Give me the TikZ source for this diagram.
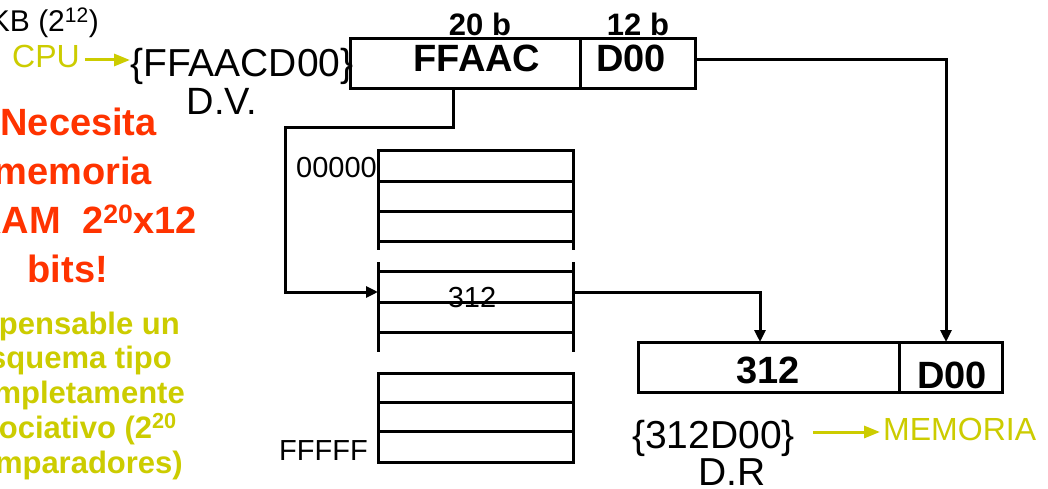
\documentclass[tikz,border=0pt]{standalone}
\usepackage{fontspec}
\setmainfont{Liberation Sans}
\usetikzlibrary{arrows.meta}
\definecolor{ylw}{RGB}{204,204,0}
\definecolor{rd}{RGB}{255,51,0}
\begin{document}
\begin{tikzpicture}[x=1pt,y=-1pt,
  line join=miter,
  box/.style={draw, line width=3pt, inner sep=0pt, outer sep=0pt, minimum height=50pt},
  rowbox/.style={inner sep=0pt, outer sep=0pt, minimum width=195pt, minimum height=31pt},
  bl/.style={inner sep=0pt, font=\fontsize{38}{40}\selectfont\bfseries},
  bsm/.style={inner sep=0pt, font=\fontsize{31}{33}\selectfont\bfseries},
  big/.style={inner sep=0pt, font=\fontsize{38}{40}\selectfont},
  mid/.style={inner sep=0pt, font=\fontsize{29}{31}\selectfont},
  redt/.style={inner sep=0pt, text=rd, font=\fontsize{38}{40}\selectfont\bfseries, anchor=base east},
  ylwt/.style={inner sep=0pt, text=ylw, font=\fontsize{31}{33}\selectfont\bfseries, anchor=base east},
  ylwr/.style={inner sep=0pt, text=ylw, font=\fontsize{32}{34}\selectfont},
  arr/.style={line width=3pt, -{Triangle[length=12pt,width=11pt]}},
  yarr/.style={line width=3pt, draw=ylw, -{Triangle[length=16pt,width=12pt,fill=ylw]}},
  tbl/.style={line width=3pt, line cap=butt}
]
\clip (0,0) rectangle (1048,489);
\fill[white] (0,0) rectangle (1048,489);

% top-left texts
\node[big, anchor=base east, font=\fontsize{30}{32}\selectfont] (kb) at (99,32) {4 KB (2\textsuperscript{12})};
\node[ylwr, anchor=base west] (cpu) at (12,68) {CPU};
\node[big, anchor=base west, font=\fontsize{39}{41}\selectfont] (dvtext) at (130,77) {\{FFAACD00\}};
\node[big, anchor=base] (dv) at (222,115) {D.V.};

% red text
\node[redt] (r1) at (157,136) {Necesita};
\node[redt] (r2) at (152,185) {memoria};
\node[redt] (r3) at (197,233) {RAM\ \ 2\textsuperscript{20}x12};
\node[redt] (r4) at (108,282) {bits!};

% yellow text
\node[ylwt] (y1) at (180,334) {Indispensable un};
\node[ylwt] (y2) at (172,368) {esquema tipo};
\node[ylwt] (y3) at (185,403) {completamente};
\node[ylwt] (y4) at (177,438) {asociativo (2\textsuperscript{20}};
\node[ylwt] (y5) at (183,473) {comparadores)};

% virtual address boxes
\node[box, minimum width=230pt] (vpn) at (465,64) {};
\node[box, minimum width=115pt] (off) at (637.5,64) {};
\node[bl, anchor=base] (vpnl) at (477,72) {FFAAC};
\node[bl, anchor=base] (offl) at (631,72) {D00};
\node[bsm, anchor=base] (b20) at (480,36) {20 b};
\node[bsm, anchor=base] (b12) at (638,36) {12 b};

% CPU arrow
\draw[yarr] ([shift={(5pt,8pt)}]cpu.base east) -- ([yshift=8pt]cpu.base east -| dvtext.west);

% page table
\draw[tbl] (378,151) -- (573,151)
           (378,181) -- (573,181)
           (378,211) -- (573,211)
           (378,241) -- (573,241)
           (378,149.5) -- (378,250)
           (573,149.5) -- (573,250);
\draw[tbl] (378,271) -- (573,271)
           (378,302) -- (573,302)
           (378,332) -- (573,332)
           (378,262) -- (378,352)
           (573,262) -- (573,352);
\draw[tbl] (378,373) rectangle (573,462)
           (378,402) -- (573,402)
           (378,431) -- (573,431);
\node[rowbox] (r312) at (475.5,286.5) {};
\node[mid, anchor=base] (t312) at (472,307) {312};
\node[mid, anchor=base east] (first) at (377,177) {00000};
\node[mid, anchor=base east] (last) at (368,460) {FFFFF};

% physical address boxes
\node[box, minimum width=261pt] (ppn) at (768.5,367) {};
\node[box, minimum width=103pt] (poff) at (950.5,367) {};
\node[bl, anchor=base] (ppnl) at (768,383) {312};
\node[bl, anchor=base] (poffl) at (952,388) {D00};

\node[big, anchor=base west, font=\fontsize{39}{41}\selectfont] (dr) at (632,448) {\{312D00\}};
\node[big, anchor=base, font=\fontsize{39}{41}\selectfont] (drl) at (732,485) {D.R};
\node[ylwr, anchor=base west] (mem) at (883,440) {MEMORIA};
\draw[yarr] ([shift={(18pt,16pt)}]dr.base east) -- ([shift={(-3pt,16pt)}]dr.base east -| mem.west);

% connectors
\draw[arr] ([xshift=-12pt]vpn.south) |- (285,128) |- ([yshift=-5.5pt]r312.west);
\draw[arr] ([yshift=-5.5pt]r312.east) -| ([xshift=-8.5pt]ppn.north);
\draw[arr] ([yshift=4pt]off.east) -| ([xshift=-4.5pt]poff.north);
\end{tikzpicture}
\end{document}
